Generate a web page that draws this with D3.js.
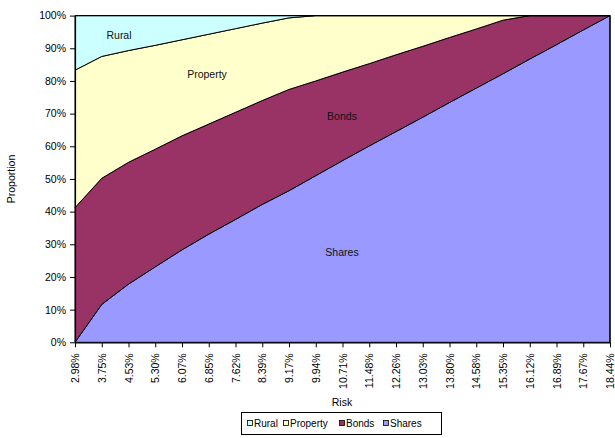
<!DOCTYPE html>
<html>
<head>
<meta charset="utf-8">
<script src="https://cdn.jsdelivr.net/npm/d3@7"></script>
<style>
  html, body { margin: 0; padding: 0; background: #fff; }
  svg { display: block; font-family: "Liberation Sans", Arial, sans-serif; }
</style>
</head>
<body>
<svg id="chart" width="615" height="438"></svg>
<script>
// ---- data ----
const categories = ["2.98%","3.75%","4.53%","5.30%","6.07%","6.85%","7.62%","8.39%","9.17%","9.94%","10.71%","11.48%","12.26%","13.03%","13.80%","14.58%","15.35%","16.12%","16.89%","17.67%","18.44%"];
const shares   = [0, 11.6, 17.8, 23.1, 28.3, 33.1, 37.6, 42.2, 46.4, 51.0, 55.6, 60.1, 64.5, 68.9, 73.4, 77.8, 82.2, 86.7, 91.1, 95.6, 100];
const bonds    = [41.2, 38.6, 37.3, 36.0, 34.9, 33.7, 32.8, 31.8, 31.0, 29.0, 27.1, 25.2, 23.5, 21.7, 19.9, 18.1, 16.4, 13.3, 8.9, 4.4, 0];
const property = [42.1, 37.3, 34.2, 31.8, 29.4, 27.5, 25.6, 23.7, 21.9, 20.0, 17.3, 14.7, 12.0, 9.4, 6.7, 4.1, 1.4, 0, 0, 0, 0];
const rural    = [16.7, 12.5, 10.7, 9.1, 7.4, 5.7, 4.0, 2.3, 0.7, 0, 0, 0, 0, 0, 0, 0, 0, 0, 0, 0, 0];
const seriesNames = ["Shares", "Bonds", "Property", "Rural"];
const yTicks = [0, 0.1, 0.2, 0.3, 0.4, 0.5, 0.6, 0.7, 0.8, 0.9, 1.0];
const colors = { Rural: "#CCFFFF", Property: "#FFFFCC", Bonds: "#993366", Shares: "#9999FF" };

// ---- layout ----
const L = 75, R = 610, T = 15.6, B = 342.3;
const svg = d3.select("#chart");

const rows = categories.map((c, i) => ({
  cat: c, Shares: shares[i], Bonds: bonds[i], Property: property[i], Rural: rural[i]
}));
const stacked = d3.stack().keys(seriesNames).offset(d3.stackOffsetExpand)(rows);

const x = d3.scalePoint().domain(categories).range([L, R]);
const y = d3.scaleLinear().domain([0, 1]).range([B, T]);

const area = d3.area()
  .x(d => x(d.data.cat))
  .y0(d => y(d[0]))
  .y1(d => y(d[1]));

svg.append("g").selectAll("path")
  .data(stacked)
  .join("path")
  .attr("d", area)
  .attr("fill", d => colors[d.key])
  .attr("stroke", "#000")
  .attr("stroke-width", 1)
  .attr("stroke-linejoin", "round");

// plot border (top and right)
svg.append("path")
  .attr("d", `M${L},${T}H${R}V${B}`)
  .attr("fill", "none").attr("stroke", "#000").attr("stroke-width", 1.2);

// y axis
const yAxis = svg.append("g").attr("transform", `translate(${L},0)`)
  .call(d3.axisLeft(y).tickValues(yTicks).tickFormat(d3.format(".0%")).tickSize(5).tickSizeOuter(0).tickPadding(4));
yAxis.select(".domain").attr("stroke", "#000").attr("stroke-width", 1.2);
yAxis.selectAll("text").attr("font-size", "10.5px").attr("fill", "#000")
  .attr("font-family", "Liberation Sans, Arial, sans-serif");

// x axis
const xAxis = svg.append("g").attr("transform", `translate(0,${B})`)
  .call(d3.axisBottom(x).tickSize(5).tickSizeOuter(0).tickPadding(6));
xAxis.select(".domain").attr("stroke", "#000").attr("stroke-width", 1.2);
xAxis.selectAll("text")
  .attr("font-size", "10.5px").attr("fill", "#000")
  .attr("font-family", "Liberation Sans, Arial, sans-serif")
  .attr("text-anchor", "end")
  .attr("transform", "rotate(-90)")
  .attr("x", -11).attr("y", 0).attr("dy", "0.35em");

// axis titles
svg.append("text").attr("x", 342).attr("y", 406).attr("text-anchor", "middle")
  .attr("font-size", "10.5px").attr("fill", "#000").text("Risk");
svg.append("text").attr("transform", "translate(15,179) rotate(-90)").attr("text-anchor", "middle")
  .attr("font-size", "10.5px").attr("fill", "#000").text("Proportion");

// series labels inside areas
const inLabels = [
  { t: "Rural", x: 119, y: 35 },
  { t: "Property", x: 207, y: 74 },
  { t: "Bonds", x: 342, y: 116 },
  { t: "Shares", x: 342, y: 252 }
];
svg.append("g").selectAll("text").data(inLabels).join("text")
  .attr("x", d => d.x).attr("y", d => d.y).attr("dy", "0.35em")
  .attr("text-anchor", "middle").attr("font-size", "10.5px").attr("fill", "#111")
  .text(d => d.t);

// legend
const legendItems = ["Rural", "Property", "Bonds", "Shares"];
const lg = svg.append("g");
lg.append("rect").attr("x", 241.5).attr("y", 412.5).attr("width", 200).attr("height", 22)
  .attr("fill", "#fff").attr("stroke", "#000").attr("stroke-width", 1);
const lx = [247, 283, 339, 383];
legendItems.forEach((k, i) => {
  lg.append("rect").attr("x", lx[i] + 0.5).attr("y", 420.5).attr("width", 5).attr("height", 5)
    .attr("fill", colors[k]).attr("stroke", "#000").attr("stroke-width", 0.8);
  lg.append("text").attr("x", lx[i] + 7).attr("y", 423.5).attr("dy", "0.35em")
    .attr("font-size", "10px").attr("fill", "#000").text(k);
});
</script>
</body>
</html>
